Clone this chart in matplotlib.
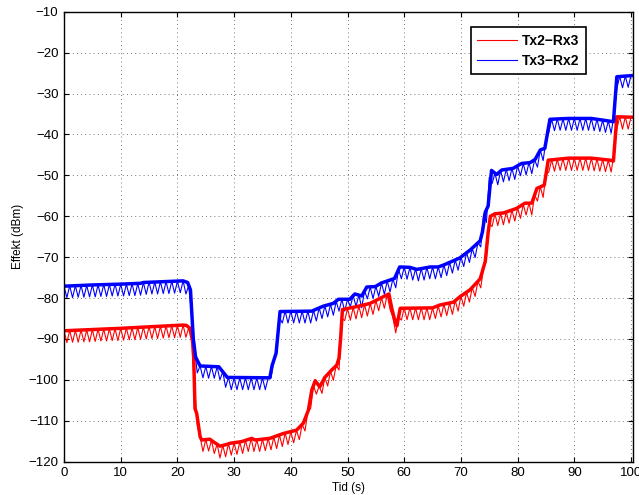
import numpy as np
import matplotlib.pyplot as plt

plt.rcParams['font.family'] = ['Liberation Sans', 'DejaVu Sans']

# Smoothed power traces, breakpoints (time in s, power in dBm)
red_trend_t = [0, 10, 21, 21.6, 22.2, 22.8, 23.1, 23.4, 24, 24.3, 25.7, 26.3,
               27.5, 28.4, 29.3, 31.3, 33.1, 33.7, 36.3, 38.7, 41, 42.2, 43.1,
               43.7, 44.3, 45.1, 46, 47.2, 48.1, 48.5, 48.8, 49.1, 51.6, 54,
               55.7, 57.3, 57.8, 58.4, 58.7, 59.3, 65, 66.3, 68.7, 69.8, 71.6,
               73.4, 74.3, 74.8, 75.2, 76, 77.5, 79.8, 81.3, 82.5, 83.4, 84.7,
               85.4, 89, 93, 96.3, 96.9, 97.5, 100.4]
red_trend_v = [-88.0, -87.4, -86.6, -86.7, -87.4, -90.3, -107.0, -108.2, -113.9,
               -114.7, -114.5, -115.1, -116.2, -115.9, -115.5, -115.1, -114.3,
               -114.7, -114.3, -113.1, -112.3, -110.6, -107.4, -102.5, -100.2,
               -101.7, -99.4, -97.6, -96.4, -94.7, -89.5, -82.8, -82.1, -81.3,
               -80.1, -79.0, -82.5, -85.8, -86.8, -82.5, -82.4, -81.7, -81.0,
               -79.7, -78.0, -75.3, -71.0, -64.0, -60.0, -59.4, -59.2, -58.1,
               -56.8, -56.8, -53.2, -52.4, -46.3, -45.8, -45.8, -46.3, -46.5,
               -35.7, -35.8]

blue_trend_t = [0, 5, 10, 13.5, 14, 21, 21.8, 22.3, 22.8, 23.2, 24, 27.3, 28.8,
                36.3, 36.7, 37.4, 38.1, 43.7, 45.7, 47.5, 48.4, 50.4, 51.3,
                52.5, 53.4, 54.9, 56, 57.5, 58.3, 59.2, 61, 62.2, 64.6, 66, 67,
                69.8, 71.6, 73.4, 73.8, 74.3, 74.8, 75.4, 76.3, 77.2, 79.2,
                80.7, 82.2, 83.1, 84, 84.8, 85.7, 89, 93, 95, 96.9, 97.5, 100.4]
blue_trend_v = [-77.1, -76.8, -76.6, -76.4, -76.2, -75.8, -76.2, -78.0, -90.0,
                -94.4, -96.6, -96.8, -99.4, -99.5, -96.5, -93.5, -83.3, -83.2,
                -82.0, -81.3, -80.3, -80.3, -79.0, -79.5, -77.3, -77.2, -76.3,
                -75.6, -75.2, -72.4, -72.5, -73.0, -72.4, -72.4, -71.9, -70.2,
                -68.3, -66.0, -63.8, -59.0, -57.5, -48.8, -49.8, -48.7, -48.3,
                -47.1, -46.9, -46.1, -43.8, -43.4, -36.3, -36.1, -36.1, -36.5,
                -36.9, -25.9, -25.6]

# Raw traces: peak at every whole second, dip half a second later
red_peak = [-88.0, -87.9, -87.9, -87.8, -87.8, -87.7, -87.6, -87.6, -87.5, -87.5,
            -87.4, -87.3, -87.3, -87.2, -87.1, -87.0, -87.0, -86.9, -86.8, -86.8,
            -86.7, -86.6, -87.2, -101.4, -113.9, -114.6, -114.8, -115.7, -116.0, -115.6,
            -115.4, -115.2, -114.8, -114.3, -114.7, -114.5, -114.3, -114.0, -113.5, -113.0,
            -112.7, -112.3, -110.9, -107.8, -101.4, -101.5, -99.4, -97.9, -96.5, -85.0,
            -82.6, -82.3, -82.0, -81.6, -81.3, -80.6, -79.9, -79.2, -84.7, -84.6,
            -82.4, -82.4, -82.4, -82.4, -82.4, -82.4, -81.9, -81.5, -81.2, -80.6,
            -79.5, -78.6, -77.4, -75.9, -72.5, -61.8, -59.4, -59.3, -58.9, -58.5,
            -58.0, -57.1, -56.8, -54.8, -52.8, -49.8, -46.2, -46.1, -45.9, -45.8,
            -45.8, -45.8, -45.8, -45.8, -46.0, -46.1, -46.3, -44.7, -35.7, -35.7,
            -35.8]
red_dip = [-90.9, -90.8, -90.8, -90.7, -90.7, -90.6, -90.5, -90.5, -90.4, -90.4,
           -90.3, -90.2, -90.2, -90.1, -90.0, -89.9, -89.9, -89.8, -89.7, -89.7,
           -89.6, -89.6, -91.0, -111.0, -117.5, -117.4, -118.0, -119.1, -118.8, -118.4,
           -118.2, -118.0, -117.5, -117.5, -117.5, -117.3, -117.1, -116.8, -116.3, -115.8,
           -115.4, -114.6, -112.5, -107.0, -103.5, -103.3, -101.5, -100.1, -97.6, -85.5,
           -85.4, -85.1, -84.8, -84.4, -84.0, -83.1, -82.5, -82.8, -88.5, -85.4,
           -85.3, -85.3, -85.3, -85.3, -85.3, -85.0, -84.6, -84.3, -84.0, -83.2,
           -82.0, -81.0, -79.6, -77.5, -70.0, -62.5, -62.3, -62.1, -61.7, -61.2,
           -60.5, -59.7, -59.7, -56.3, -55.4, -49.2, -49.0, -48.8, -48.8, -48.8,
           -48.8, -48.8, -48.8, -48.9, -49.0, -49.1, -49.2, -38.7, -38.7, -38.7]

blue_peak = [-77.1, -77.0, -77.0, -76.9, -76.9, -76.8, -76.8, -76.7, -76.7, -76.6,
             -76.6, -76.6, -76.5, -76.5, -76.2, -76.1, -76.1, -76.0, -76.0, -75.9,
             -75.9, -75.8, -76.9, -92.2, -96.6, -96.7, -96.7, -96.8, -98.0, -99.4,
             -99.5, -99.5, -99.5, -99.5, -99.5, -99.5, -99.5, -95.2, -84.8, -83.2,
             -83.2, -83.2, -83.2, -83.2, -83.0, -82.4, -81.9, -81.5, -80.8, -80.3,
             -80.3, -79.4, -79.3, -78.2, -77.3, -77.1, -76.3, -75.8, -75.3, -73.0,
             -72.4, -72.5, -72.9, -72.8, -72.5, -72.4, -72.4, -71.9, -71.3, -70.7,
             -70.0, -68.9, -67.9, -66.5, -59.5, -50.5, -49.5, -48.9, -48.5, -48.3,
             -47.7, -47.1, -46.9, -46.2, -43.8, -41.5, -36.3, -36.2, -36.2, -36.1,
             -36.1, -36.1, -36.1, -36.1, -36.3, -36.5, -36.7, -35.1, -25.8, -25.7,
             -25.6]
blue_dip = [-79.9, -79.9, -79.8, -79.8, -79.7, -79.7, -79.6, -79.6, -79.5, -79.5,
            -79.5, -79.4, -79.4, -79.3, -79.1, -79.0, -79.0, -78.9, -78.9, -78.8,
            -78.7, -79.0, -84.0, -98.3, -99.5, -99.6, -99.6, -100.0, -101.8, -102.4,
            -102.4, -102.4, -102.4, -102.4, -102.4, -102.4, -99.5, -93.0, -86.1, -86.1,
            -86.1, -86.1, -86.1, -86.1, -85.6, -85.0, -84.6, -84.2, -83.2, -83.2,
            -82.1, -82.0, -82.4, -80.2, -80.1, -79.6, -79.1, -78.5, -77.5, -75.3,
            -75.4, -75.6, -75.8, -75.6, -75.3, -75.3, -75.0, -74.5, -73.9, -73.2,
            -72.3, -71.3, -70.1, -67.5, -61.5, -52.0, -52.3, -51.6, -51.3, -51.0,
            -50.1, -49.9, -49.6, -48.0, -46.4, -39.5, -39.1, -39.0, -39.0, -39.0,
            -39.0, -39.0, -39.0, -39.1, -39.3, -39.5, -39.7, -28.8, -28.6, -28.5]

x_ticks = list(range(0, 101, 10))
y_ticks = list(range(-120, -9, 10))


def raw_trace(peaks, dips):
    # interleave peaks (whole seconds) and dips (half seconds)
    t = np.arange(len(peaks) + len(dips)) / 2.0
    v = np.empty(len(t))
    v[0::2] = peaks
    v[1::2] = dips
    return t, v


fig = plt.figure(figsize=(6.39, 4.95), dpi=100)
ax = fig.add_axes([0.1002, 0.0673, 0.8904, 0.9091])

t_red, v_red = raw_trace(red_peak, red_dip)
t_blue, v_blue = raw_trace(blue_peak, blue_dip)

line_red, = ax.plot(t_red, v_red, color='#ff0000', lw=0.8, label='Tx2\u2212Rx3')
line_blue, = ax.plot(t_blue, v_blue, color='#0000ff', lw=0.8, label='Tx3\u2212Rx2')
ax.plot(red_trend_t, red_trend_v, color='#ff0000', lw=2.5, solid_joinstyle='round')
ax.plot(blue_trend_t, blue_trend_v, color='#0000ff', lw=2.5, solid_joinstyle='round')

ax.set_xlim(0, 100.35)
ax.set_ylim(-120, -10)
ax.set_xticks(x_ticks)
ax.set_yticks(y_ticks)
ax.tick_params(direction='in', length=3.6, width=0.8, top=True, right=True,
               labelsize=9.5, pad=4)
ax.grid(True, color='0.3', linestyle=(0, (1, 4)), linewidth=0.6)
for sp in ax.spines.values():
    sp.set_linewidth(1.0)

ax.set_xlabel('Tid (s)', fontsize=8.5, va='center')
ax.set_ylabel('Effekt (dBm)', fontsize=8.5, va='center')
ax.xaxis.set_label_coords(0.5, -0.058)
ax.yaxis.set_label_coords(-0.081, 0.5)

leg = ax.legend(handles=[line_red, line_blue], loc='upper right',
                bbox_to_anchor=(0.917, 0.965), borderaxespad=0,
                prop={'weight': 'bold', 'size': 10}, handlelength=2.9,
                handletextpad=0.35, borderpad=0.45, labelspacing=0.45,
                fancybox=False, framealpha=1)
leg.get_frame().set_edgecolor('black')
leg.get_frame().set_linewidth(1.2)

fig.savefig('out.png', dpi=100)
